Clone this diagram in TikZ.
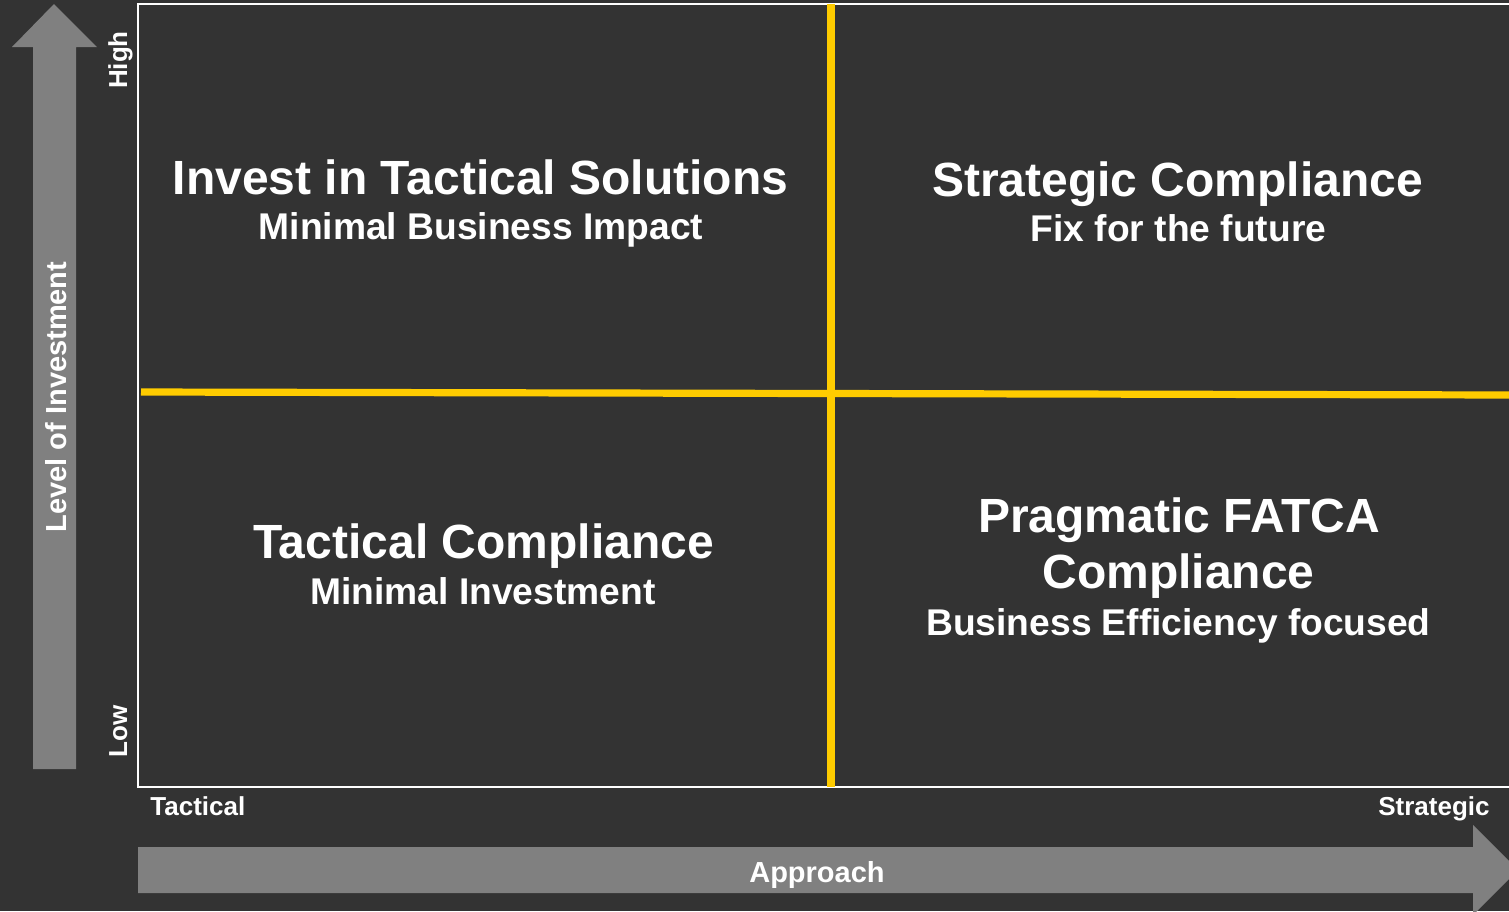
\documentclass[tikz,border=0pt]{standalone}
\usepackage{fontspec}
\setmainfont{Liberation Sans}
\definecolor{bgdark}{HTML}{333333}
\definecolor{axisgrey}{HTML}{808080}
\definecolor{divyellow}{HTML}{FFCC00}
\tikzset{
	quadhead/.style={text=white, anchor=base, inner sep=0pt, font=\bfseries\fontsize{24}{28}\selectfont},
	quadsub/.style={text=white, anchor=base, inner sep=0pt, font=\bfseries\fontsize{18.6}{22}\selectfont},
	axistitle/.style={text=white, anchor=base, inner sep=0pt, font=\bfseries\fontsize{14.5}{17}\selectfont},
	axislabel/.style={text=white, inner sep=0pt, font=\bfseries\fontsize{13}{15}\selectfont},
}

\begin{document}
\begin{tikzpicture}[x=0.5pt,y=-0.5pt]
		\useasboundingbox (0,0) rectangle (1509,911);
		\fill[bgdark](0,0)rectangle(1509,911);
		\coordinate (nw) at (138,4);
		\coordinate (sw) at (138,787);
		\begin{scope}
		\clip (0,0) rectangle (1509,911);
		% axis arrows
		\fill[axisgrey](33,769)--(33,47)--(12,47)--(54,4)--(97,47)--(76,47)--(76,769)--cycle;
		\fill[axisgrey](138,847)--(1473,847)--(1473,825)--(1518,870)--(1473,915)--(1473,893)--(138,893)--cycle;
		% frame and dividers
		\draw[white, line width=0.8pt](1520,4)--(nw)--(sw)--(1520,787);
		\draw[divyellow, line width=3.6pt](141,392)--(1515,395);
		\draw[divyellow, line width=3.8pt](831,4)--(831,787);
		\end{scope}

		\node[quadhead] (tlhead) at (480.5,194) {Invest in Tactical Solutions};
		\node[quadsub] (tlsub) at (481,239) {Minimal Business Impact};
		\node[quadhead] (trhead) at (1177.5,196) {Strategic Compliance};
		\node[quadsub] (trsub) at (1178.5,241) {Fix for the future};
		\node[quadhead] (blhead) at (483.5,558) {Tactical Compliance};
		\node[quadsub] (blsub) at (483,604) {Minimal Investment};
		\node[quadhead] (brhead) at (1179,532) {Pragmatic FATCA};
		\node[quadhead] (brhead2) at (1178.5,588) {Compliance};
		\node[quadsub] (brsub) at (1178.5,635) {Business Efficiency focused};

		\node[axistitle] (yaxis) at (66,397) [rotate=90] {Level of Investment};
		\node[axistitle] (xaxis) at (817,882) {Approach};
		\node[axislabel, anchor=base, rotate=90] (high) at (127,60) {High};
		\node[axislabel, anchor=base, rotate=90] (low) at (127,731) {Low};
		\node[axislabel, anchor=base west] (tactical) at (150,815) {Tactical};
		\node[axislabel, anchor=base east] (strategic) at (1490,815) {Strategic};
		\end{tikzpicture}
\end{document}
